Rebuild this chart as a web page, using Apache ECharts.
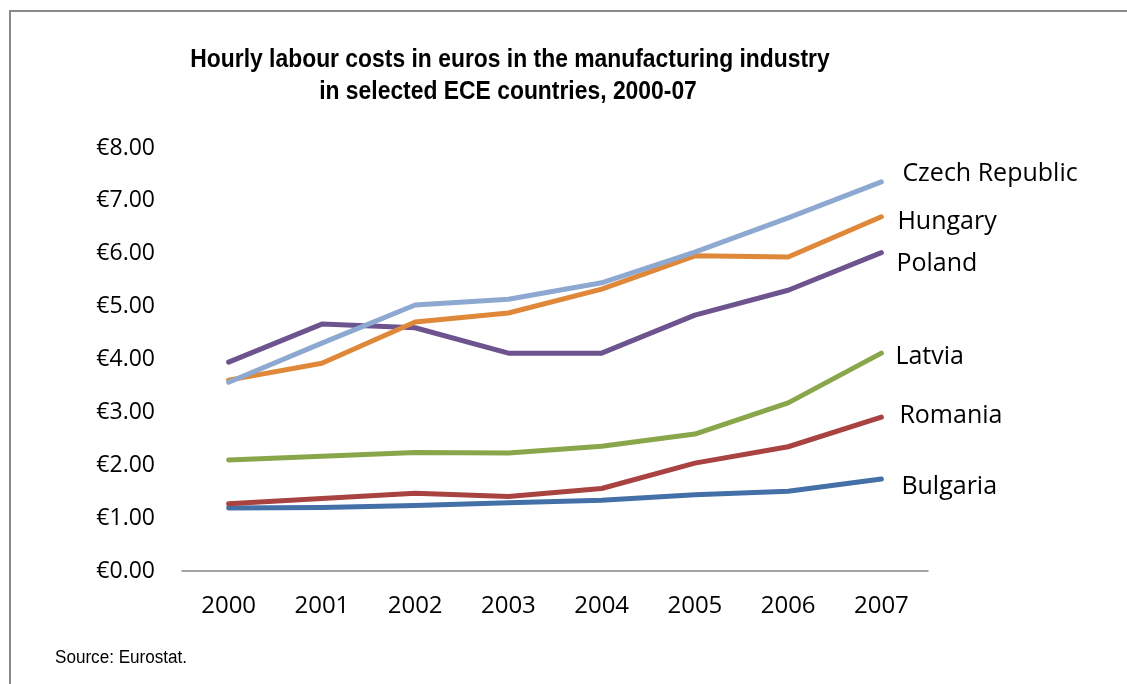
<!DOCTYPE html>
<html><head><meta charset="utf-8">
<script src="https://cdn.jsdelivr.net/npm/echarts@6/dist/echarts.min.js"></script>
<style>html,body{margin:0;padding:0;background:#fff}#c{width:1127px;height:684px}</style>
</head><body><div id="c"></div>
<script>
const years = ['2000','2001','2002','2003','2004','2005','2006','2007'];
const czech    = [3.57, 4.31, 5.03, 5.14, 5.45, 6.03, 6.68, 7.36];
const hungary  = [3.61, 3.93, 4.71, 4.88, 5.33, 5.96, 5.94, 6.70];
const poland   = [3.95, 4.67, 4.60, 4.12, 4.12, 4.84, 5.31, 6.02];
const latvia   = [2.10, 2.17, 2.24, 2.23, 2.36, 2.59, 3.18, 4.12];
const romania  = [1.27, 1.37, 1.47, 1.41, 1.56, 2.04, 2.35, 2.91];
const bulgaria = [1.19, 1.20, 1.24, 1.29, 1.34, 1.44, 1.51, 1.74];
const yTicks = [0,1,2,3,4,5,6,7,8];
const titleLines = ['Hourly labour costs in euros in the manufacturing industry', 'in selected ECE countries, 2000-07'];

const chart = echarts.init(document.getElementById('c'));
const lab = "'Open Sans', 'Noto Sans', sans-serif";
const arial = "'Liberation Sans', Arial, sans-serif";
function mk(name, data, color, off) {
  return {
    name, type: 'line', data, symbol: 'none', smooth: false,
    lineStyle: {color, width: 5, cap: 'round', join: 'round'},
    itemStyle: {color},
    endLabel: {show: true, formatter: name, color: '#000', fontFamily: lab, fontSize: 25, distance: 0, offset: off},
    z: 2
  };
}
chart.setOption({
  animation: false,
  graphic: [
    {type: 'rect', shape: {x: 10, y: 11, width: 1200, height: 800}, style: {fill: 'none', stroke: '#8a8a8a', lineWidth: 2}, silent: true},
    {type: 'text', x: 510, y: 60, scaleX: 0.88, style: {text: titleLines[0], fill: '#000', font: "bold 26px " + arial, align: 'center', verticalAlign: 'middle'}},
    {type: 'text', x: 508, y: 92, scaleX: 0.88, style: {text: titleLines[1], fill: '#000', font: "bold 26px " + arial, align: 'center', verticalAlign: 'middle'}},
    {type: 'text', x: 55, y: 658, scaleX: 0.95, style: {text: 'Source: Eurostat.', fill: '#000', font: "18px " + arial, align: 'left', verticalAlign: 'middle'}}
  ],
  grid: {left: 182, right: 199, top: 148, bottom: 113},
  xAxis: {
    type: 'category', data: years, boundaryGap: true,
    axisLine: {lineStyle: {color: '#868686', width: 1.5}},
    axisTick: {show: false},
    axisLabel: {color: '#000', fontFamily: lab, fontSize: 24, margin: 23}
  },
  yAxis: {
    type: 'value', min: yTicks[0], max: yTicks[yTicks.length-1], interval: 1,
    axisLine: {show: false}, axisTick: {show: false}, splitLine: {show: false},
    axisLabel: {color: '#000', fontFamily: lab, fontSize: 23, margin: 27, formatter: v => '€' + v.toFixed(2)}
  },
  series: [
    mk('Bulgaria', bulgaria, '#4470A8', [20, 8]),
    mk('Romania', romania, '#A84342', [18, -1]),
    mk('Latvia', latvia, '#8AA64A', [14, 4]),
    mk('Poland', poland, '#6E548F', [15, 11]),
    mk('Hungary', hungary, '#E0883A', [16, 5]),
    mk('Czech Republic', czech, '#8EA9D1', [21, -8])
  ]
});
</script></body></html>
